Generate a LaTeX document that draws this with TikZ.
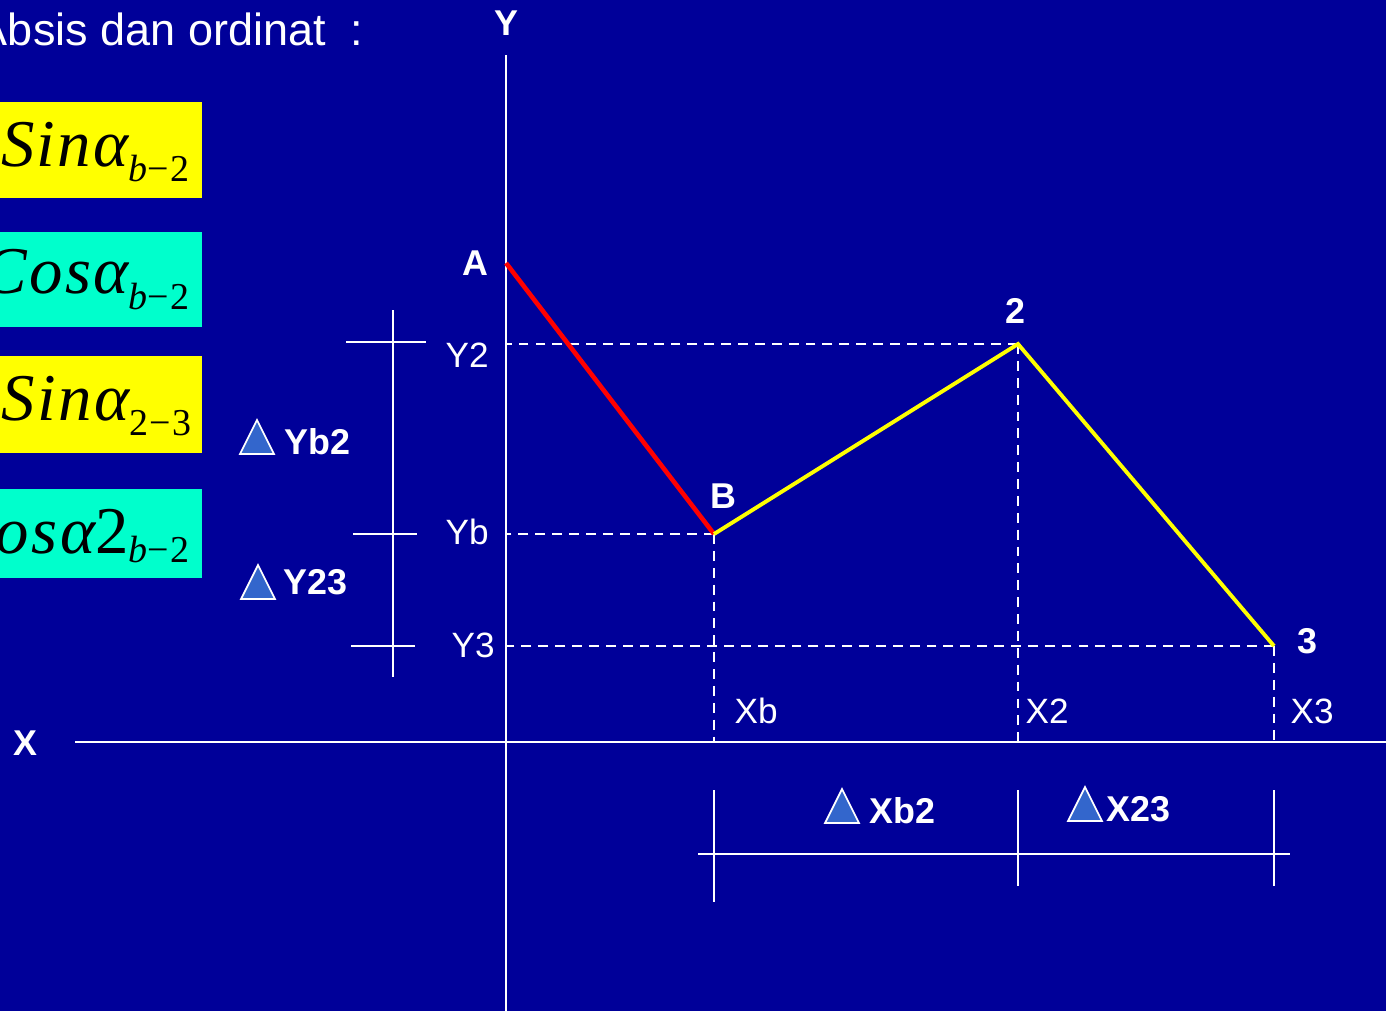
\documentclass[tikz,border=0pt]{standalone}
\usepackage{fontspec}
\setmainfont{Liberation Sans}
\newfontfamily\timesfont[LetterSpace=3.5]{Liberation Serif}
\definecolor{slideblue}{RGB}{0,0,153}
\definecolor{boxyellow}{RGB}{255,255,0}
\definecolor{boxcyan}{RGB}{0,255,204}
\definecolor{trianglefill}{RGB}{51,102,204}
\newcommand{\trigform}[3]{{\fontsize{19}{20}\selectfont\timesfont\itshape #1\raisebox{-#3}{\fontsize{10.8}{11}\selectfont #2}}}

\begin{document}
\begin{tikzpicture}[x=0.01cm,y=-0.01cm]
\tikzset{
  axisline/.style={white,line width=0.6pt},
  guide/.style={white,line width=0.6pt,dash pattern=on 2.8pt off 2pt},
  dimline/.style={white,line width=0.6pt},
  legAB/.style={red,line width=1.3pt},
  legtrav/.style={boxyellow,line width=1.1pt,line join=miter},
  coordlabel/.style={white,inner sep=0pt,font=\fontsize{10}{12}\selectfont},
  pointlabel/.style={white,inner sep=0pt,font=\bfseries\fontsize{10.2}{12}\selectfont},
  formula/.style={black,inner sep=0pt},
  deltamark/.pic={\draw[white,fill=trianglefill,line width=0.5pt] (-17,0) -- (17,0) -- (0,-34) -- cycle;}
}
\useasboundingbox (0,0) rectangle (1386,1011);
\clip (0,0) rectangle (1386,1011);
\fill[slideblue] (0,0) rectangle (1386,1011);
% heading and formula boxes
\node[white,inner sep=0pt,anchor=base east,font=\fontsize{12.8}{14}\selectfont] (t_head) at (364,45) {Absis dan ordinat~~:};
\fill[boxyellow] (-20,102) rectangle (202,198);
\fill[boxcyan] (-20,232) rectangle (202,327);
\fill[boxyellow] (-20,356) rectangle (202,453);
\fill[boxcyan] (-20,489) rectangle (202,578);
\node[formula,anchor=base east] (f_sinb2) at (190,166) {\trigform{Sinα}{b\upshape−2}{4.3pt}};
\node[formula,anchor=base east] (f_cosb2) at (190,293) {\trigform{Cosα}{b\upshape−2}{4.8pt}};
\node[formula,anchor=base east] (f_sin23) at (192,420) {\trigform{Sinα}{\upshape 2−3}{4.3pt}};
\node[formula,anchor=base east] (f_cos2b2) at (190,553) {\trigform{Cosα{\upshape 2}}{b\upshape−2}{2.6pt}};
% axes
\coordinate (n_xl) at (75,742);
\coordinate (n_xr) at (1386,742);
\coordinate (n_yt) at (506,55);
\coordinate (n_yb) at (506,1011);
\draw[axisline] (n_xl) -- (n_xr);
\draw[axisline] (n_yt) -- (n_yb);
\node[pointlabel,anchor=base] (l_X) at (25,755) {X};
\node[pointlabel,anchor=base] (l_Y) at (506,35) {Y};
% points
\coordinate (n_A) at (506,263);
\coordinate (n_B) at (714,534);
\coordinate (n_2) at (1018,344);
\coordinate (n_3) at (1274,646);
\node[pointlabel,anchor=base] (l_A) at (475,275) {A};
\node[pointlabel,anchor=base] (l_B) at (723,508) {B};
\node[pointlabel,anchor=base] (l_2) at (1015,323) {2};
\node[pointlabel,anchor=base] (l_3) at (1307,653) {3};
% projections
\draw[guide] (n_2) -- (n_2 -| n_yt);
\draw[guide] (n_B) -- (n_B -| n_yt);
\draw[guide] (n_3) -- (n_3 -| n_yt);
\draw[guide] (n_B) -- (n_B |- n_xl);
\draw[guide] (n_2) -- (n_2 |- n_xl);
\draw[guide] (n_3) -- (n_3 |- n_xl);
\node[coordlabel,anchor=base west] (l_Y2) at (445,367) {Y2};
\node[coordlabel,anchor=base west] (l_Yb) at (445,544) {Yb};
\node[coordlabel,anchor=base west] (l_Y3) at (451,657) {Y3};
\node[coordlabel,anchor=base west] (l_Xb) at (734,723) {Xb};
\node[coordlabel,anchor=base west] (l_X2) at (1025,723) {X2};
\node[coordlabel,anchor=base west] (l_X3) at (1290,723) {X3};
% traverse
\draw[legAB] (n_A) -- (n_B);
\draw[legtrav] (n_B) -- (n_2) -- (n_3);
% dimension lines
\draw[dimline] (393,310) -- (393,677);
\draw[dimline] (346,342) -- (426,342);
\draw[dimline] (353,534) -- (417,534);
\draw[dimline] (351,646) -- (415,646);
\draw[dimline] (698,854) -- (1290,854);
\draw[dimline] (714,790) -- (714,902);
\draw[dimline] (1018,790) -- (1018,886);
\draw[dimline] (1274,790) -- (1274,886);
\pic at (257,454) {deltamark};
\node[pointlabel,anchor=base west] (d_yb2) at (284,454) {Yb2};
\pic at (258,599) {deltamark};
\node[pointlabel,anchor=base west] (d_y23) at (283,594) {Y23};
\pic at (842,823) {deltamark};
\node[pointlabel,anchor=base west] (d_xb2) at (869,823) {Xb2};
\pic at (1085,821) {deltamark};
\node[pointlabel,anchor=base west] (d_x23) at (1106,821) {X23};
\end{tikzpicture}
\end{document}
